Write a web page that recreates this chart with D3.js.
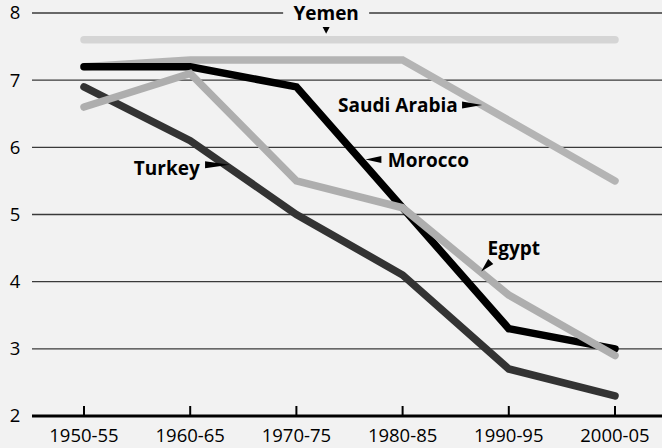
<!DOCTYPE html>
<html>
<head>
<meta charset="utf-8">
<script src="https://cdn.jsdelivr.net/npm/d3@7"></script>
<style>
  body { margin: 0; background: #f2f2f2; }
  svg { display: block; background: #f2f2f2; }
  text { font-family: "Open Sans", "Noto Sans", sans-serif; fill: #000; }
  .tick-label { font-size: 18.5px; }
  .series-label { font-size: 19px; font-weight: bold; }
</style>
</head>
<body>
<div id="wrapper"></div>
<script>
// periods along the x axis
periods = ['1950-55', '1960-65', '1970-75', '1980-85', '1990-95', '2000-05'] ;
yTicks = [2, 3, 4, 5, 6, 7, 8] ;

// total fertility rate per country
yemen       = [7.6, 7.6, 7.6, 7.6, 7.6, 7.6] ;
saudiArabia = [7.2, 7.3, 7.3, 7.3, 6.4, 5.5] ;
turkey      = [6.9, 6.1, 5.0, 4.1, 2.7, 2.3] ;
morocco     = [7.2, 7.2, 6.9, 5.1, 3.3, 3.0] ;
egypt       = [6.6, 7.1, 5.5, 5.1, 3.8, 2.9] ;

seriesNames = ['Yemen', 'Saudi Arabia', 'Turkey', 'Morocco', 'Egypt'] ;
seriesValues = [yemen, saudiArabia, turkey, morocco, egypt] ;

function drawChart() {
  let dimensions = {
    width: 662,
    height: 448,
    margin: { top: 13, right: 0, bottom: 32, left: 32 }
  } ;
  dimensions.boundedWidth = dimensions.width - dimensions.margin.left - dimensions.margin.right ;
  dimensions.boundedHeight = dimensions.height - dimensions.margin.top - dimensions.margin.bottom ;

  const svg = d3.select("#wrapper").append("svg")
      .attr("width", dimensions.width)
      .attr("height", dimensions.height) ;

  const bounds = svg.append("g")
      .attr("transform", `translate(${dimensions.margin.left}, ${dimensions.margin.top})`) ;

  const xScale = d3.scalePoint()
    .domain(periods)
    .range([52, 583]) ;

  const yScale = d3.scaleLinear()
    .domain([2, 8])
    .range([dimensions.boundedHeight, 0]) ;

  // gridlines
  bounds.selectAll(".grid")
    .data(yTicks.filter((d) => d > 2))
    .enter().append("line")
      .attr("x1", 0)
      .attr("x2", dimensions.boundedWidth)
      .attr("y1", (d) => yScale(d))
      .attr("y2", (d) => yScale(d))
      .attr("stroke", "#3a3a3a")
      .attr("stroke-width", 1.3) ;

  // y tick labels
  bounds.selectAll(".ylab")
    .data(yTicks)
    .enter().append("text")
      .attr("class", "tick-label")
      .attr("x", -17)
      .attr("y", (d) => yScale(d))
      .attr("dy", "0.35em")
      .attr("text-anchor", "middle")
      .text((d) => d) ;

  // x axis
  const xAxis = bounds.append("g")
    .attr("transform", `translate(0, ${dimensions.boundedHeight})`) ;
  xAxis.append("line")
    .attr("x1", 0).attr("x2", dimensions.boundedWidth)
    .attr("stroke", "#000").attr("stroke-width", 3) ;
  xAxis.selectAll(".xtick")
    .data(periods)
    .enter().append("line")
      .attr("x1", (d) => xScale(d)).attr("x2", (d) => xScale(d))
      .attr("y1", 0).attr("y2", -10)
      .attr("stroke", "#000").attr("stroke-width", 2) ;
  xAxis.selectAll(".xlab")
    .data(periods)
    .enter().append("text")
      .attr("class", "tick-label")
      .attr("x", (d) => xScale(d))
      .attr("y", 26)
      .attr("text-anchor", "middle")
      .text((d) => d) ;

  // lines
  const colors = {
    'Yemen': '#d5d5d5',
    'Saudi Arabia': '#b4b4b4',
    'Turkey': '#333333',
    'Morocco': '#000000',
    'Egypt': '#aeaeae'
  } ;
  const lineGen = d3.line()
    .x((d, i) => xScale(periods[i]))
    .y((d) => yScale(d)) ;

  bounds.selectAll(".series")
    .data(seriesValues)
    .enter().append("path")
      .attr("d", (d) => lineGen(d))
      .attr("fill", "none")
      .attr("stroke", (d, i) => colors[seriesNames[i]])
      .attr("stroke-width", 7.5)
      .attr("stroke-linecap", "round")
      .attr("stroke-linejoin", "miter") ;

  // labels with pointers (positions in data space)
  const labels = [
    { name: 'Yemen', x: 2.28, v: 7.99, anchor: 'middle', base: [2.28, 7.79], tip: [2.28, 7.69], half: 3.5 },
    { name: 'Saudi Arabia', x: 3.52, v: 6.63, anchor: 'end', base: [3.56, 6.63], tip: [3.75, 6.63], half: 3.5 },
    { name: 'Morocco', x: 2.86, v: 5.8, anchor: 'start', base: [2.8, 5.82], tip: [2.65, 5.82], half: 3.5 },
    { name: 'Turkey', x: 1.09, v: 5.69, anchor: 'end', base: [1.14, 5.74], tip: [1.37, 5.74], half: 3.5 },
    { name: 'Egypt', x: 3.8, v: 4.49, anchor: 'start', base: [3.83, 4.3], tip: [3.74, 4.15], half: 3.5 }
  ] ;
  const xNum = d3.scaleLinear().domain([0, 5]).range([52, 583]) ;

  // knockout box for Yemen label over gridline
  const yem = labels[0] ;
  bounds.append("rect")
    .attr("x", xNum(yem.x) - 43)
    .attr("y", yScale(yem.v) - 12)
    .attr("width", 86)
    .attr("height", 24)
    .attr("fill", "#f2f2f2") ;

  labels.forEach((l) => {
    bounds.append("text")
      .attr("class", "series-label")
      .attr("x", xNum(l.x))
      .attr("y", yScale(l.v))
      .attr("dy", "0.35em")
      .attr("text-anchor", l.anchor)
      .text(l.name) ;

    const bx = xNum(l.base[0]), by = yScale(l.base[1]) ;
    const tx = xNum(l.tip[0]), ty = yScale(l.tip[1]) ;
    const len = Math.hypot(tx - bx, ty - by) ;
    const nx = -(ty - by) / len * l.half, ny = (tx - bx) / len * l.half ;
    bounds.append("path")
      .attr("d", `M${bx + nx},${by + ny}L${tx},${ty}L${bx - nx},${by - ny}Z`)
      .attr("fill", "#000") ;
  }) ;
}

drawChart() ;
</script>
</body>
</html>
